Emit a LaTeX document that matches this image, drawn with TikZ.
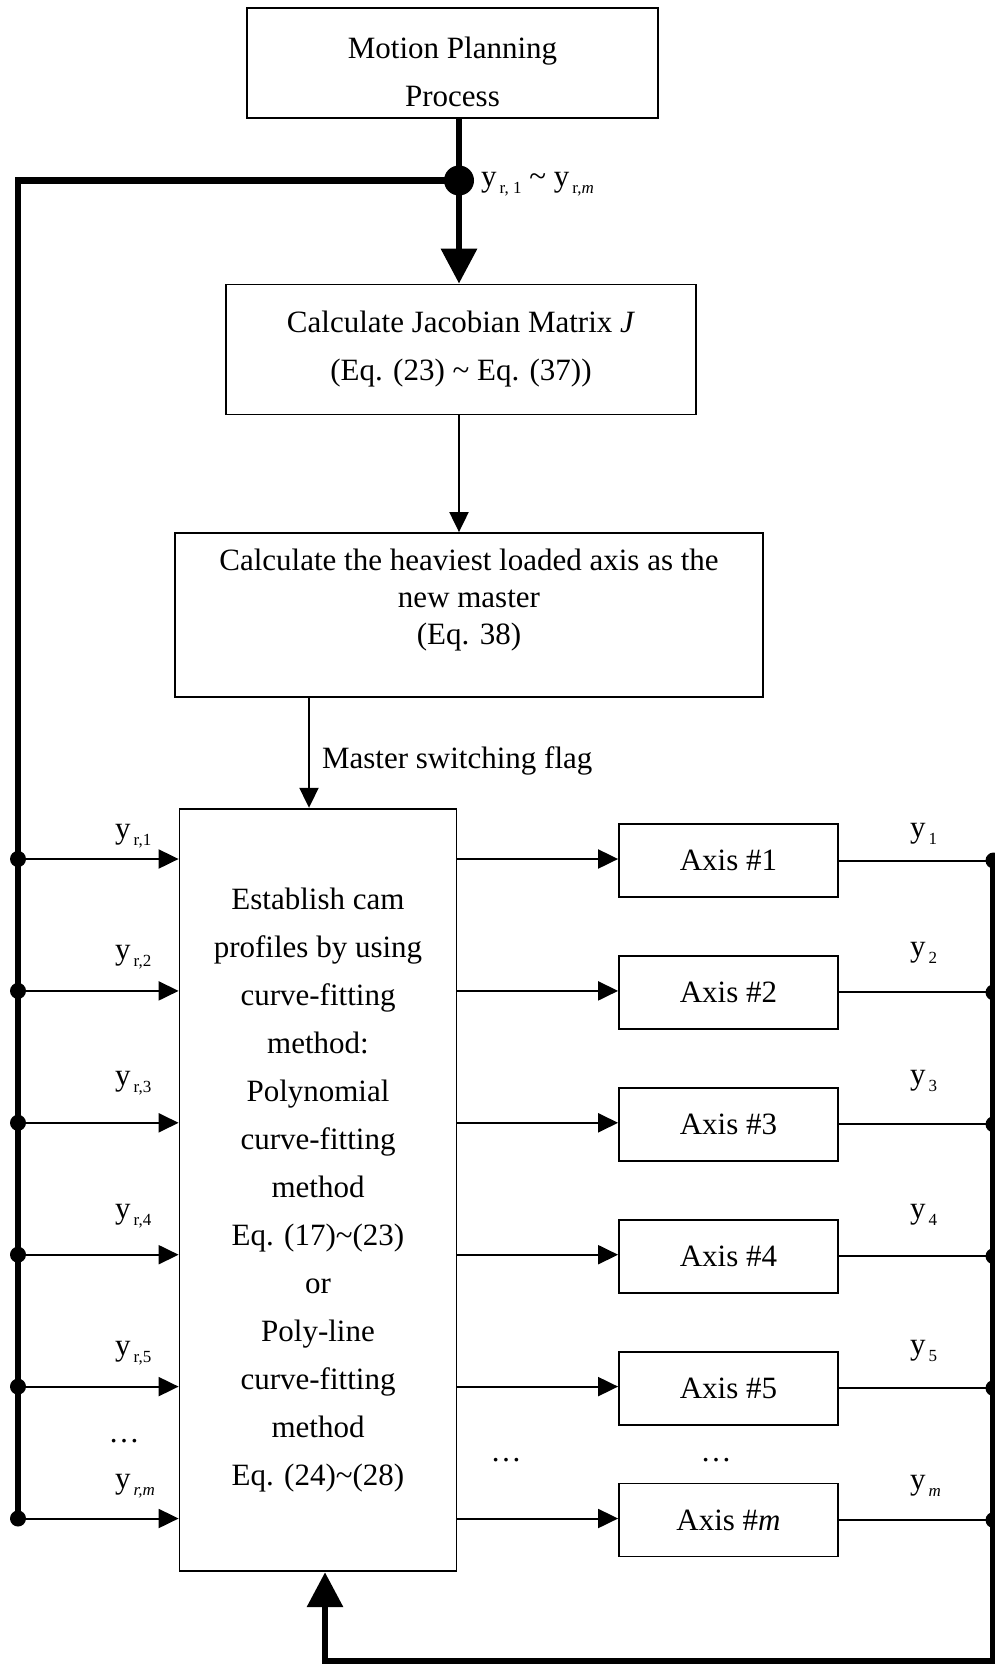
\documentclass[tikz,border=0pt]{standalone}
\usepackage{fontspec}
\setmainfont{Liberation Serif}
\usetikzlibrary{arrows.meta}

\newcommand{\ysub}[1]{\hspace{1.5pt}\raisebox{-3.5pt}{\fontsize{8.5}{8.5}\selectfont #1}}

\begin{document}
\begin{tikzpicture}[x=0.5pt, y=-0.5pt,
    every node/.style={font=\fontsize{15.5}{24}\selectfont},
    blk/.style={draw, line width=0.9pt, align=center, inner sep=0pt},
    wire/.style={line width=1pt},
    bus/.style={line width=3.25pt},
    tip/.style={-{Triangle[length=10pt,width=9.5pt]}},
    bigtip/.style={-{Triangle[length=17.5pt,width=17.5pt]}}]
  \useasboundingbox (0,0) rectangle (995,1665);

  % blocks
  \node[blk, minimum width=205.5pt, minimum height=55pt] (plan) at (452.5,63)
    {\rule{0pt}{19.6pt}Motion Planning\\Process};
  \node[blk, minimum width=235pt, minimum height=65pt] (jac) at (461,349.5)
    {Calculate Jacobian Matrix \textit{J}\\(Eq. (23) \textasciitilde{} Eq. (37))};
  \node[blk, minimum width=294.25pt, minimum height=82pt,
    font=\fontsize{15.5}{18.5}\selectfont] (heavy) at (469,615)
    {Calculate the heaviest loaded axis as the\\new master\\(Eq. 38)\rule[-18.5pt]{0pt}{18.5pt}};
  \node[blk, minimum width=138.5pt, minimum height=381.3pt] (cam) at (318,1190)
    {Establish cam\\profiles by using\\curve-fitting\\method:\\Polynomial\\curve-fitting\\method\\
     Eq. (17)\textasciitilde(23)\\or\\Poly-line\\curve-fitting\\method\\Eq. (24)\textasciitilde(28)};

  \coordinate (tap) at (459,180.5);
  \coordinate (flag) at (309,697);
  \coordinate (rbus) at (993.5,0);
  \coordinate (fb) at (325,1661);

  % top part
  \draw[bus] (plan.south -| tap) -- (tap);
  \draw[bus, bigtip] (tap) -- (jac.north -| tap);
  \draw[wire, tip] (jac.south -| tap) -- (heavy.north -| tap);
  \draw[wire, tip] (heavy.south -| flag) -- (cam.north -| flag);
  \node[anchor=base west] (flaglbl) at (315,768) {Master switching flag};
  \node[anchor=base west] (reflbl) at (474,186)
    {y\ysub{r, 1} \textasciitilde{} y\ysub{r,\textit{m}}};

  % axes, inputs and outputs
  \foreach \i/\ls/\rs/\dl/\dr in {1/{r,1}/1/21/22, 2/{r,2}/2/31/34, 3/{r,3}/3/37/38,
      4/{r,4}/4/36/36, 5/{r,5}/5/31/32, 6/{\textit{r,m}}/\textit{m}/30/29} {
    \pgfmathsetmacro\ry{859+(\i-1)*131.9}
    \coordinate (in\i) at (18,\ry);
    \node[blk, minimum width=109.5pt, minimum height=36.5pt] (ax\i) at (728.5,\ry+1.5) {Axis \#\rs};
    \draw[wire, tip] (in\i) -- (cam.west |- in\i);
    \draw[wire, tip] (cam.east |- in\i) -- (ax\i.west |- in\i);
    \draw[wire] (ax\i.east) -- (ax\i.east -| rbus);
    \fill (in\i) circle[radius=4pt];
    \fill (ax\i.east -| rbus) circle[radius=4pt];
    \node[anchor=base west] (yin\i) at (108,\ry-\dl) {y\ysub{\ls}};
    \node[anchor=base west] (yout\i) at (903,\ry-\dr) {y\ysub{\rs}};
  }
  \node (dotsl) at (124,1441) {\ldots};
  \node (dotsc) at (506,1460) {\ldots};
  \node (dotsa) at (716,1460) {\ldots};

  % feedback buses
  \draw[bus] (tap) -| (in6);
  \fill (tap) circle[radius=7.5pt];
  \draw[bus, bigtip] (ax1.east -| rbus) |- (fb) -- (cam.south -| fb);
\end{tikzpicture}
\end{document}
